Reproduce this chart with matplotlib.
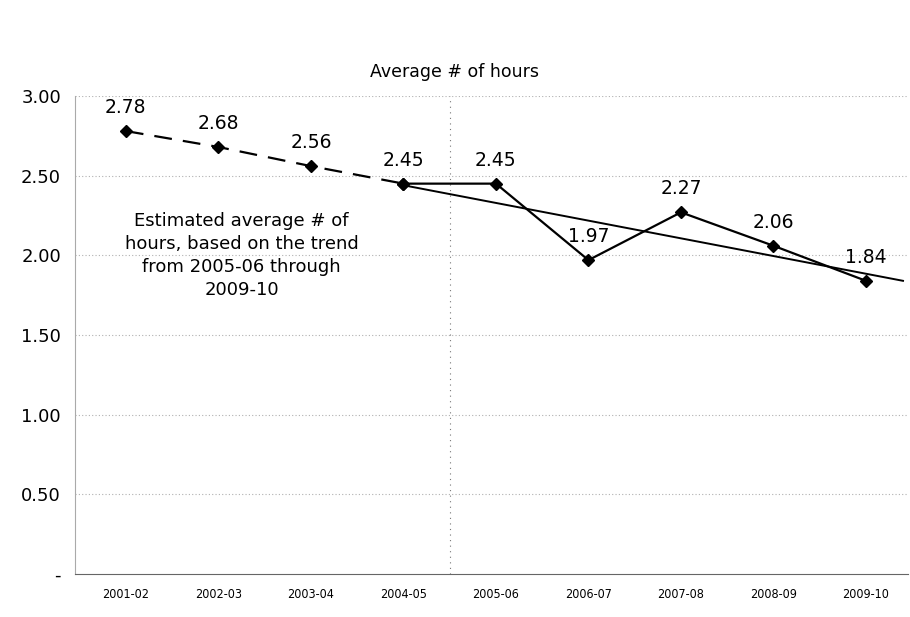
import numpy as np
import matplotlib.pyplot as plt

years = ["2001-02", "2002-03", "2003-04", "2004-05", "2005-06",
         "2006-07", "2007-08", "2008-09", "2009-10"]
est_idx = [0, 1, 2, 3]
est_hours = [2.78, 2.68, 2.56, 2.45]
act_idx = [3, 4, 5, 6, 7, 8]
act_hours = [2.45, 2.45, 1.97, 2.27, 2.06, 1.84]
trend_x = [3, 8.4]
trend_y = [2.44, 1.84]
yticks = [0, 0.5, 1.0, 1.5, 2.0, 2.5, 3.0]
ytick_labels = ["-", "0.50", "1.00", "1.50", "2.00", "2.50", "3.00"]
note = "Estimated average # of\nhours, based on the trend\nfrom 2005-06 through\n2009-10"

fig = plt.figure(figsize=(9.1, 6.17), dpi=100)
ax = fig.add_axes([0.0824, 0.0697, 0.915, 0.7747])

for y in yticks[1:]:
    ax.axhline(y, color="#b0b0b0", linewidth=0.8, linestyle=(0, (1, 2)), zorder=0)
ax.axvline(3.5, color="#777777", linewidth=0.8, linestyle=(0, (1, 4)), zorder=0)

ax.plot(est_idx, est_hours, color="black", linewidth=1.6, linestyle=(0, (8, 5)),
        marker="D", markersize=6, zorder=3)
ax.plot(act_idx, act_hours, color="black", linewidth=1.6,
        marker="D", markersize=6, zorder=3)
ax.plot(trend_x, trend_y, color="black", linewidth=1.4, zorder=2)

labels_idx = est_idx + act_idx[1:]
labels_val = est_hours + act_hours[1:]
for i, v in zip(labels_idx, labels_val):
    ax.annotate(f"{v:.2f}", (i, v), xytext=(0, 10), textcoords="offset points",
                ha="center", va="bottom", fontsize=13.5)

ax.text(1.25, 2.0, note, ha="center", va="center", fontsize=13, linespacing=1.35)

ax.set_xlim(-0.55, 8.45)
ax.set_ylim(0, 3.0)
ax.set_xticks(range(len(years)))
ax.set_xticklabels(years, fontsize=9, fontstretch="condensed")
ax.set_yticks(yticks)
ax.set_yticklabels(ytick_labels, fontsize=13)
ax.tick_params(axis="x", length=0, pad=10)
ax.tick_params(axis="y", length=0, pad=10)

for side in ["top", "right"]:
    ax.spines[side].set_visible(False)
ax.spines["left"].set_color("#aaaaaa")
ax.spines["left"].set_linewidth(0.8)
ax.spines["bottom"].set_color("#666666")
ax.spines["bottom"].set_linewidth(0.8)

fig.text(0.5, 0.883, "Average # of hours", ha="center", va="center", fontsize=12.5)

fig.savefig("out.png", dpi=100)
